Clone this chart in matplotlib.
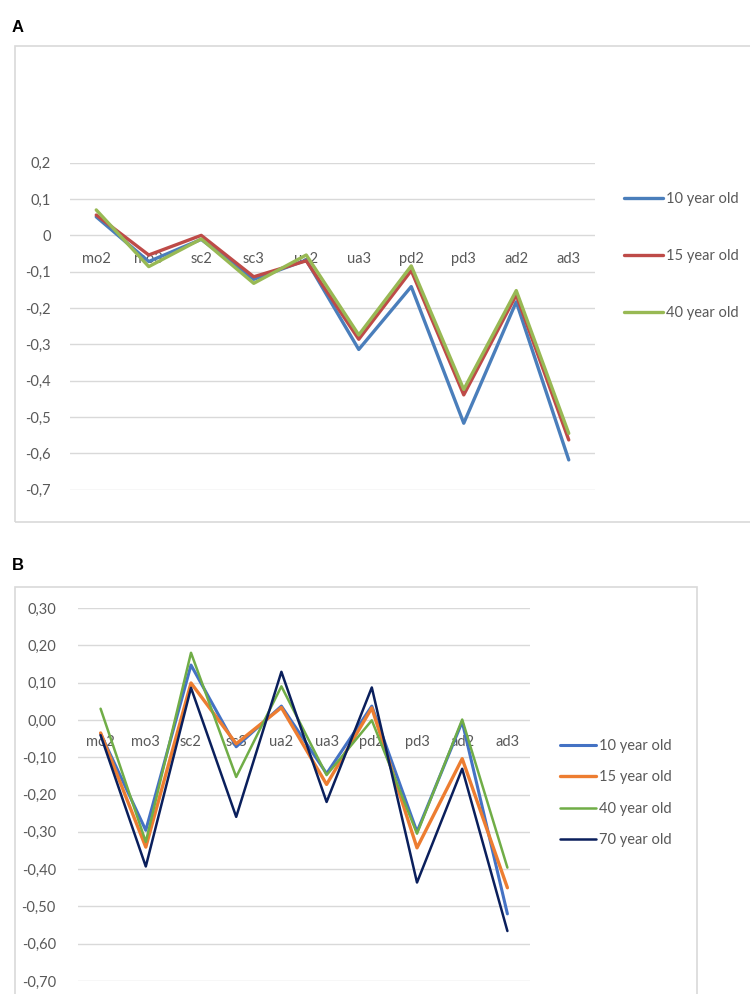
import matplotlib.pyplot as plt
from matplotlib.patches import Rectangle

# categories shared by both panels
categories = ["mo2", "mo3", "sc2", "sc3", "ua2", "ua3", "pd2", "pd3", "ad2", "ad3"]

# panel A series
a_10 = [0.051, -0.072, -0.011, -0.121, -0.068, -0.314, -0.141, -0.517, -0.183, -0.618]
a_15 = [0.056, -0.054, 0.000, -0.114, -0.070, -0.286, -0.097, -0.439, -0.164, -0.563]
a_40 = [0.070, -0.086, -0.010, -0.132, -0.054, -0.274, -0.084, -0.424, -0.152, -0.545]
a_labels = ["10 year old", "15 year old", "40 year old"]
a_ticks = [0.2, 0.1, 0.0, -0.1, -0.2, -0.3, -0.4, -0.5, -0.6, -0.7]

# panel B series
b_10 = [-0.037, -0.296, 0.147, -0.072, 0.037, -0.144, 0.037, -0.300, -0.005, -0.520]
b_15 = [-0.035, -0.341, 0.099, -0.064, 0.033, -0.173, 0.032, -0.343, -0.104, -0.450]
b_40 = [0.030, -0.327, 0.180, -0.153, 0.090, -0.148, -0.001, -0.305, 0.001, -0.396]
b_70 = [-0.041, -0.393, 0.086, -0.260, 0.129, -0.220, 0.087, -0.436, -0.131, -0.566]
b_labels = ["10 year old", "15 year old", "40 year old", "70 year old"]
b_ticks = [0.3, 0.2, 0.1, 0.0, -0.1, -0.2, -0.3, -0.4, -0.5, -0.6, -0.7]

TEXT = "#595959"
GRID = "#D9D9D9"
FONT = ["Lato", "DejaVu Sans"]

plt.rcParams["font.family"] = FONT


def fmt_a(v):
    if abs(v) < 1e-9:
        return "0"
    return f"{v:.1f}".replace(".", ",")


def fmt_b(v):
    if abs(v) < 1e-9:
        return "0,00"
    return f"{v:.2f}".replace(".", ",")


def style_axes(ax, ticks, fmt, label_y, pad):
    x = list(range(len(categories)))
    ax.set_xlim(-0.5, len(categories) - 0.5)
    ax.set_ylim(min(ticks), max(ticks))
    ax.set_yticks(ticks)
    ax.set_yticklabels([fmt(t) for t in ticks])
    ax.set_xticks([])
    ax.tick_params(axis="y", length=0, pad=pad, labelsize=10.5, labelcolor=TEXT)
    ax.grid(axis="y", color=GRID, lw=1)
    ax.set_axisbelow(True)
    for s in ax.spines.values():
        s.set_visible(False)
    for i, c in zip(x, categories):
        ax.text(i, label_y, c, ha="center", va="center", fontsize=10.5,
                color=TEXT, zorder=1)


fig = plt.figure(figsize=(7.5, 9.94), dpi=100)

# panel frames
fig.patches.append(Rectangle((15 / 750, 1 - 522 / 994), 740 / 750, 476 / 994,
                             transform=fig.transFigure, fill=False,
                             ec=GRID, lw=1.2))
fig.patches.append(Rectangle((15 / 750, -0.01), 682 / 750, 1 - 587 / 994 + 0.01,
                             transform=fig.transFigure, fill=False,
                             ec=GRID, lw=1.2))

# --- panel A
axA = fig.add_axes([70 / 750, 1 - 489.7 / 994, 525 / 750, 327 / 994])
style_axes(axA, a_ticks, fmt_a, -0.065, 14)
xs = list(range(len(categories)))
for ys, col, lab in zip([a_10, a_15, a_40], ["#4A7EBB", "#BE4B48", "#98B954"], a_labels):
    axA.plot(xs, ys, color=col, lw=2.4, label=lab, solid_capstyle="round", zorder=3)
axA.legend(loc="center left", bbox_to_anchor=(624 / 750, 1 - 256 / 994),
           bbox_transform=fig.transFigure, frameon=False, fontsize=10.5,
           labelcolor=TEXT, labelspacing=2.95, handlelength=2.7,
           handletextpad=0.15, borderpad=0, borderaxespad=0)

# --- panel B
axB = fig.add_axes([78 / 750, 1 - 981 / 994, 452 / 750, 373 / 994])
style_axes(axB, b_ticks, fmt_b, -0.06, 16)
for ys, col, lab, w in zip([b_10, b_15, b_40, b_70],
                           ["#4472C4", "#ED7D31", "#70AD47", "#0A1F5C"],
                           b_labels, [2.2, 2.4, 1.8, 1.8]):
    axB.plot(xs, ys, color=col, lw=w, label=lab, solid_capstyle="round", zorder=3)
axB.legend(loc="center left", bbox_to_anchor=(560 / 750, 1 - 793 / 994),
           bbox_transform=fig.transFigure, frameon=False, fontsize=10.5,
           labelcolor=TEXT, labelspacing=1.2, handlelength=2.5,
           handletextpad=0.15, borderpad=0, borderaxespad=0)

# panel letters
fig.text(12 / 750, 1 - 27 / 994, "A", fontsize=12, fontweight="bold",
         family="Liberation Sans", va="center", ha="left")
fig.text(12 / 750, 1 - 566 / 994, "B", fontsize=12, fontweight="bold",
         family="Liberation Sans", va="center", ha="left")

fig.savefig("out.png", dpi=100, facecolor="white")
